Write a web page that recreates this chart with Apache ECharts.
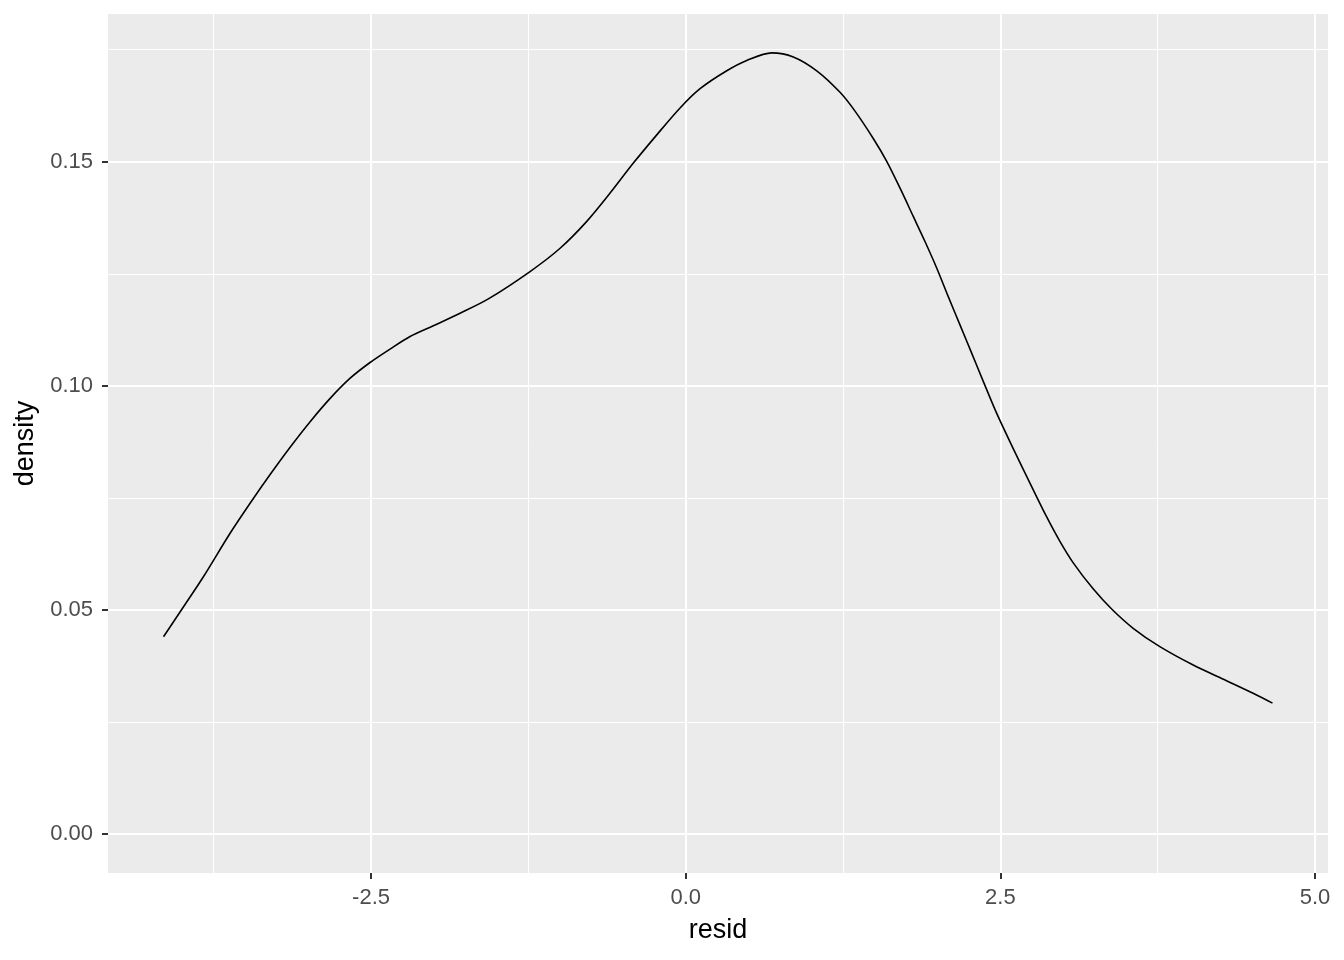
<!DOCTYPE html>
<html>
<head>
<meta charset="utf-8">
<script src="https://cdn.jsdelivr.net/npm/echarts@6/dist/echarts.min.js"></script>
<style>
html,body{margin:0;padding:0;background:#ffffff;}
#chart{width:1344px;height:960px;}
</style>
</head>
<body>
<div id="chart"></div>
<script>
// density estimate of residuals
const residX = [-4.149,-3.990,-3.832,-3.620,-3.461,-3.302,-3.143,-2.984,-2.825,-2.666,-2.508,-2.349,-2.190,-2.005,-1.793,-1.568,-1.237,-0.998,-0.786,-0.601,-0.416,-0.230,-0.045,0.114,0.326,0.485,0.683,0.855,1.041,1.226,1.345,1.490,1.597,1.703,1.808,1.901,1.994,2.086,2.179,2.272,2.364,2.470,2.602,2.735,2.867,2.973,3.079,3.237,3.384,3.555,3.767,4.032,4.297,4.508,4.662];
const densityY = [0.0440,0.0507,0.0574,0.0671,0.0738,0.0802,0.0863,0.0920,0.0972,0.1017,0.1052,0.1082,0.1110,0.1134,0.1162,0.1194,0.1255,0.1307,0.1367,0.1430,0.1497,0.1560,0.1620,0.1663,0.1703,0.1726,0.1743,0.1734,0.1703,0.1655,0.1613,0.1552,0.1501,0.1441,0.1378,0.1322,0.1263,0.1199,0.1136,0.1073,0.1010,0.0939,0.0860,0.0783,0.0708,0.0653,0.0605,0.0547,0.0502,0.0459,0.0418,0.0377,0.0342,0.0314,0.0292];
const xMajorTicks = [-2.5, 0.0, 2.5, 5.0];
const xMinorTicks = [-3.75, -1.25, 1.25, 3.75];
const yMajorTicks = [0.00, 0.05, 0.10, 0.15];
const yMinorTicks = [0.025, 0.075, 0.125, 0.175];
const xRange = [-4.590, 5.103];
const yRange = [-0.00871, 0.18297];

const FONT = '"Liberation Sans", Arial, sans-serif';
const chart = echarts.init(document.getElementById('chart'), null, {renderer: 'canvas'});

const points = residX.map((x, i) => [x, densityY[i]]);

chart.setOption({
  backgroundColor: '#ffffff',
  animation: false,
  grid: {left: 108, right: 16, top: 14, bottom: 87, show: true, backgroundColor: '#EBEBEB', borderWidth: 0},
  xAxis: [
    {
      type: 'value', min: xRange[0], max: xRange[1],
      name: 'resid', nameLocation: 'middle', nameGap: 44,
      nameTextStyle: {fontFamily: FONT, fontSize: 27, color: '#000000'},
      axisLine: {show: false, onZero: false},
      axisTick: {show: true, length: 6, customValues: xMajorTicks, lineStyle: {color: '#333333', width: 2}},
      axisLabel: {show: true, customValues: xMajorTicks, margin: 14, fontFamily: FONT, fontSize: 22, color: '#4D4D4D',
                  formatter: v => Number(v).toFixed(1)},
      splitLine: {show: true, lineStyle: {color: '#ffffff', width: 2}},
      z: 2
    },
    {
      type: 'value', min: xRange[0], max: xRange[1], gridIndex: 0,
      axisLine: {show: false, onZero: false},
      axisTick: {show: false, customValues: xMinorTicks},
      axisLabel: {show: false, customValues: xMinorTicks},
      splitLine: {show: true, lineStyle: {color: '#ffffff', width: 1}},
      z: 1
    }
  ],
  yAxis: [
    {
      type: 'value', min: yRange[0], max: yRange[1],
      name: 'density', nameLocation: 'middle', nameGap: 62, nameRotate: 90,
      nameTextStyle: {fontFamily: FONT, fontSize: 27, color: '#000000'},
      axisLine: {show: false, onZero: false},
      axisTick: {show: true, length: 6, customValues: yMajorTicks, lineStyle: {color: '#333333', width: 2}},
      axisLabel: {show: true, customValues: yMajorTicks, margin: 15, fontFamily: FONT, fontSize: 22, color: '#4D4D4D',
                  formatter: v => Number(v).toFixed(2)},
      splitLine: {show: true, lineStyle: {color: '#ffffff', width: 2}},
      z: 2
    },
    {
      type: 'value', min: yRange[0], max: yRange[1], gridIndex: 0,
      axisLine: {show: false, onZero: false},
      axisTick: {show: false, customValues: yMinorTicks},
      axisLabel: {show: false, customValues: yMinorTicks},
      splitLine: {show: true, lineStyle: {color: '#ffffff', width: 1}},
      z: 1
    }
  ],
  series: [{
    type: 'line',
    xAxisIndex: 0, yAxisIndex: 0,
    data: points,
    smooth: 0.3,
    symbol: 'none',
    lineStyle: {color: '#000000', width: 1.6},
    z: 5
  }]
});
</script>
</body>
</html>
